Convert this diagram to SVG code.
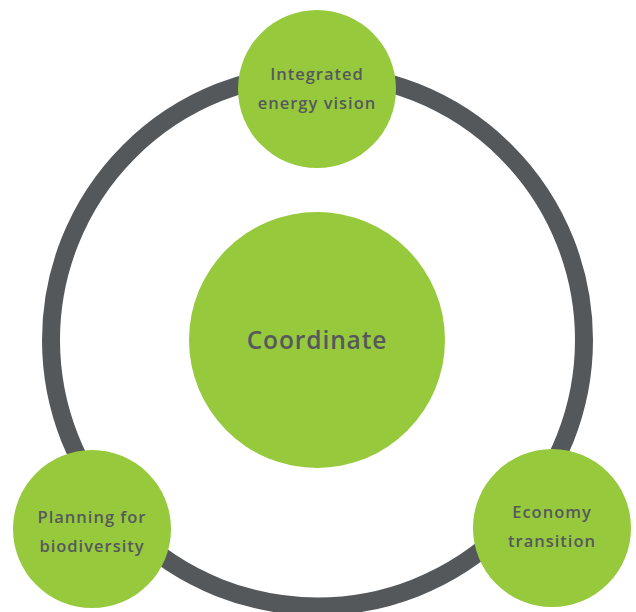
<svg xmlns="http://www.w3.org/2000/svg" width="636" height="612" viewBox="0 0 636 612">
  <style>
    .ring { fill: none; stroke: #54585b; stroke-width: 18; }
    .node { fill: #97c93d; }
    .label { font-family: "Open Sans", "Liberation Sans", sans-serif; font-weight: 600; fill: #55595c; text-anchor: middle; }
    .small { font-size: 16.5px; letter-spacing: 1px; }
    .big { font-size: 24.5px; letter-spacing: 0.9px; }
  </style>
  <rect width="636" height="612" fill="#ffffff"/>
  <g id="connectors">
    <circle class="ring" cx="317.5" cy="340" r="266.5"/>
  </g>
  <g id="coordinate">
    <circle class="node" cx="317" cy="340" r="128"/>
    <text class="label big" x="317" y="349">Coordinate</text>
  </g>
  <g id="integrated-energy-vision">
    <circle class="node" cx="317" cy="89" r="79"/>
    <text class="label small" x="317" y="80">Integrated</text>
    <text class="label small" x="317" y="109">energy vision</text>
  </g>
  <g id="planning-for-biodiversity">
    <circle class="node" cx="92" cy="529" r="79"/>
    <text class="label small" x="92" y="523">Planning for</text>
    <text class="label small" x="92" y="552">biodiversity</text>
  </g>
  <g id="economy-transition">
    <circle class="node" cx="552" cy="528" r="79"/>
    <text class="label small" x="552" y="518">Economy</text>
    <text class="label small" x="552" y="547">transition</text>
  </g>
</svg>
